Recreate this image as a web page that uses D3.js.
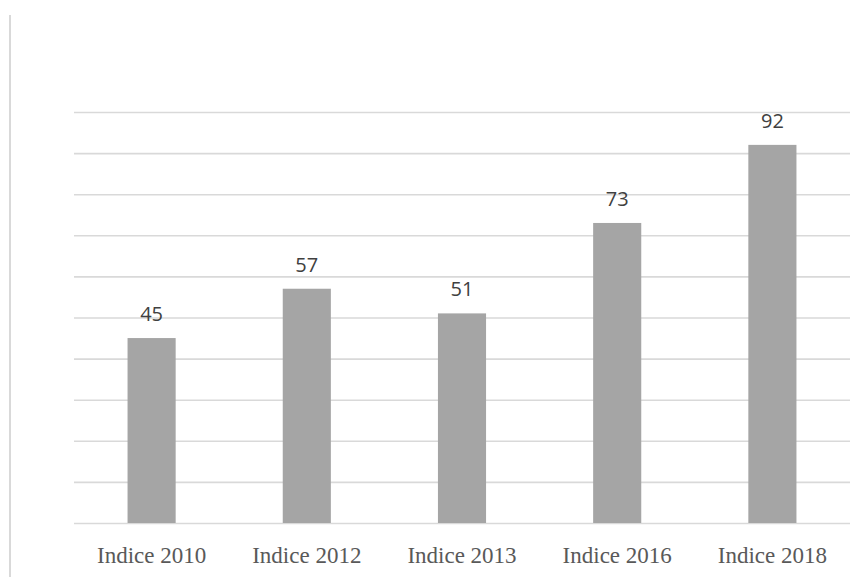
<!DOCTYPE html>
<html>
<head>
<meta charset="utf-8">
<script src="https://cdn.jsdelivr.net/npm/d3@7"></script>
<style>
  html, body { margin: 0; padding: 0; background: #ffffff; }
  svg { display: block; }
</style>
</head>
<body>
<svg id="chart" width="861" height="577"></svg>
<script>
// Index scores by edition
const categories = ["Indice 2010", "Indice 2012", "Indice 2013", "Indice 2016", "Indice 2018"];
const values = [45, 57, 51, 73, 92];
const yTicks = [0, 10, 20, 30, 40, 50, 60, 70, 80, 90, 100];

const svg = d3.select("#chart");
const plot = { left: 74, right: 850, top: 112, bottom: 523 };

const x = d3.scaleBand()
  .domain(categories)
  .range([plot.left, plot.right])
  .paddingInner(0.69)
  .paddingOuter(0.345);

const y = d3.scaleLinear()
  .domain([0, 100])
  .range([plot.bottom, plot.top]);

// Frame edge on the left
svg.append("line")
  .attr("x1", 10).attr("x2", 10)
  .attr("y1", 15).attr("y2", 577)
  .attr("stroke", "#d9d9d9")
  .attr("stroke-width", 2);

// Horizontal gridlines (no tick labels)
const yAxis = d3.axisLeft(y)
  .tickValues(yTicks)
  .tickSize(-(plot.right - plot.left))
  .tickFormat("");
const gy = svg.append("g")
  .attr("transform", `translate(${plot.left},0)`)
  .call(yAxis);
gy.select(".domain").remove();
gy.selectAll(".tick line")
  .attr("stroke", "#d9d9d9")
  .attr("stroke-width", 1.6);

// Bars
svg.append("g")
  .selectAll("rect")
  .data(values)
  .join("rect")
  .attr("x", (d, i) => x(categories[i]))
  .attr("y", d => y(d))
  .attr("width", x.bandwidth())
  .attr("height", d => y(0) - y(d))
  .attr("fill", "#a5a5a5");

// Value labels
svg.append("g")
  .selectAll("text")
  .data(values)
  .join("text")
  .attr("x", (d, i) => x(categories[i]) + x.bandwidth() / 2)
  .attr("y", d => y(d) - 17)
  .attr("text-anchor", "middle")
  .attr("font-family", "'Open Sans', sans-serif")
  .attr("font-size", 20)
  .attr("fill", "#404040")
  .text(d => d);

// Category axis
const xAxis = d3.axisBottom(x).tickSize(0).tickPadding(0);
const gx = svg.append("g")
  .attr("transform", `translate(0,${plot.bottom})`)
  .call(xAxis);
gx.select(".domain").remove();
gx.selectAll(".tick text")
  .attr("dy", 0)
  .attr("y", 40)
  .attr("font-family", "'Liberation Serif', 'Times New Roman', serif")
  .attr("font-size", 23)
  .attr("fill", "#595959");
</script>
</body>
</html>
